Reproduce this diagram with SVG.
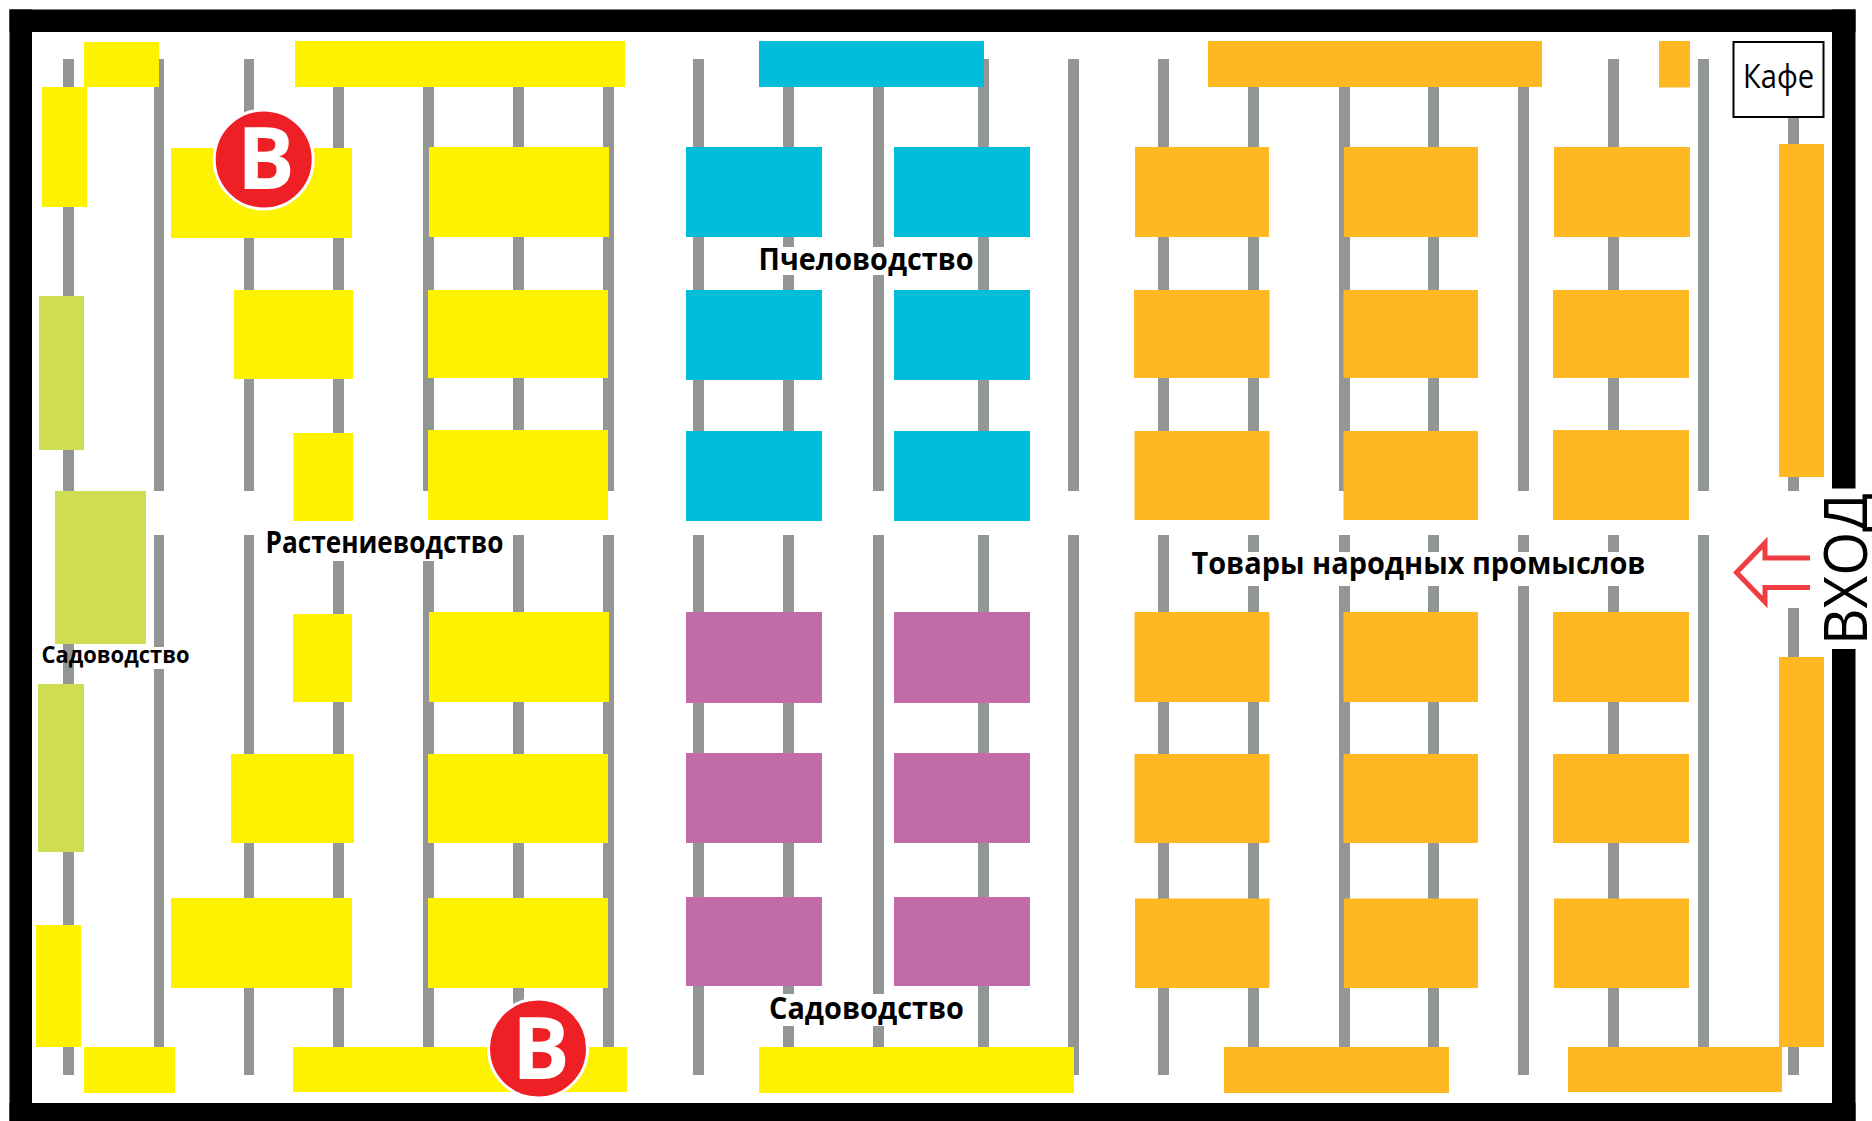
<svg xmlns="http://www.w3.org/2000/svg" width="1872" height="1121" viewBox="0 0 1872 1121">
<style>
.b{fill:#929695}
.y{fill:#fff200}
.c{fill:#00bdda}
.o{fill:#ffb722}
.p{fill:#c26ba9}
.g{fill:#cfdd53}
.l{font-family:"Open Sans","Liberation Sans",sans-serif;font-weight:700;fill:#000}
.m{font-family:"Open Sans","Liberation Sans",sans-serif;fill:#000}
.v{fill:#ee1f25;stroke:#fff;stroke-width:3}
.t{font-family:"Open Sans","Liberation Sans",sans-serif;font-weight:700;fill:#fff;font-size:86px;text-anchor:middle}
</style>
<rect width="1872" height="1121" fill="#fff"/>
<g id="walls" fill="#000">
<rect x="9.5" y="9.5" width="1846" height="22.5"/>
<rect x="9.5" y="9.5" width="22.5" height="1111.5"/>
<rect x="9.5" y="1103" width="1846" height="18"/>
<rect x="1832" y="9.5" width="23.5" height="479"/>
<rect x="1832" y="649" width="23.5" height="472"/>
</g>
<g id="connectors">
<rect class="b" x="63" y="59" width="11" height="1016"/>
<rect class="b" x="154" y="59" width="10" height="432"/>
<rect class="b" x="154" y="535" width="10" height="112"/>
<rect class="b" x="154" y="669" width="10" height="406"/>
<rect class="b" x="244" y="59" width="10" height="432"/>
<rect class="b" x="244" y="535" width="10" height="540"/>
<rect class="b" x="333" y="59" width="11" height="432"/>
<rect class="b" x="333" y="561" width="11" height="514"/>
<rect class="b" x="423" y="59" width="11" height="432"/>
<rect class="b" x="423" y="561" width="11" height="514"/>
<rect class="b" x="513" y="59" width="11" height="432"/>
<rect class="b" x="513" y="535" width="11" height="540"/>
<rect class="b" x="603" y="59" width="11" height="432"/>
<rect class="b" x="603" y="535" width="11" height="540"/>
<rect class="b" x="693" y="59" width="11" height="432"/>
<rect class="b" x="693" y="535" width="11" height="540"/>
<rect class="b" x="783" y="59" width="11" height="188"/>
<rect class="b" x="783" y="275" width="11" height="216"/>
<rect class="b" x="783" y="535" width="11" height="459"/>
<rect class="b" x="783" y="1026" width="11" height="49"/>
<rect class="b" x="873" y="59" width="11" height="188"/>
<rect class="b" x="873" y="275" width="11" height="216"/>
<rect class="b" x="873" y="535" width="11" height="459"/>
<rect class="b" x="873" y="1026" width="11" height="49"/>
<rect class="b" x="978" y="59" width="11" height="432"/>
<rect class="b" x="978" y="535" width="11" height="540"/>
<rect class="b" x="1068" y="59" width="11" height="432"/>
<rect class="b" x="1068" y="535" width="11" height="540"/>
<rect class="b" x="1158" y="59" width="11" height="432"/>
<rect class="b" x="1158" y="535" width="11" height="540"/>
<rect class="b" x="1248" y="59" width="11" height="432"/>
<rect class="b" x="1248" y="535" width="11" height="17"/>
<rect class="b" x="1248" y="586" width="11" height="489"/>
<rect class="b" x="1339" y="59" width="11" height="432"/>
<rect class="b" x="1339" y="535" width="11" height="17"/>
<rect class="b" x="1339" y="586" width="11" height="489"/>
<rect class="b" x="1428" y="59" width="11" height="432"/>
<rect class="b" x="1428" y="535" width="11" height="17"/>
<rect class="b" x="1428" y="586" width="11" height="489"/>
<rect class="b" x="1518" y="59" width="11" height="432"/>
<rect class="b" x="1518" y="535" width="11" height="17"/>
<rect class="b" x="1518" y="586" width="11" height="489"/>
<rect class="b" x="1608" y="59" width="11" height="432"/>
<rect class="b" x="1608" y="535" width="11" height="17"/>
<rect class="b" x="1608" y="586" width="11" height="489"/>
<rect class="b" x="1698" y="59" width="11" height="432"/>
<rect class="b" x="1698" y="535" width="11" height="540"/>
<rect class="b" x="1788" y="59" width="11" height="432"/>
<rect class="b" x="1788" y="608" width="11" height="467"/>
</g>
<g id="stall-y1"><rect class="y" x="84" y="42" width="75" height="45"/></g>
<g id="stall-y2"><rect class="y" x="295" y="41" width="330" height="46"/></g>
<g id="stall-y3"><rect class="y" x="42" y="87" width="45" height="120"/></g>
<g id="stall-y4"><rect class="y" x="171" y="148" width="181" height="90"/></g>
<g id="stall-y5"><rect class="y" x="429" y="147" width="180" height="90"/></g>
<g id="stall-y6"><rect class="y" x="234" y="290" width="119" height="89"/></g>
<g id="stall-y7"><rect class="y" x="428" y="290" width="180" height="88"/></g>
<g id="stall-y8"><rect class="y" x="293.500" y="433" width="59.500" height="88"/></g>
<g id="stall-y9"><rect class="y" x="428" y="430" width="180" height="90"/></g>
<g id="stall-y10"><rect class="y" x="293" y="614" width="59" height="88"/></g>
<g id="stall-y11"><rect class="y" x="429" y="612" width="180" height="90"/></g>
<g id="stall-y12"><rect class="y" x="231" y="754" width="123" height="89"/></g>
<g id="stall-y13"><rect class="y" x="428" y="754" width="180" height="89"/></g>
<g id="stall-y14"><rect class="y" x="171" y="898" width="181" height="90"/></g>
<g id="stall-y15"><rect class="y" x="428" y="898" width="180" height="90"/></g>
<g id="stall-y16"><rect class="y" x="36" y="925" width="45" height="122"/></g>
<g id="stall-y17"><rect class="y" x="84" y="1047" width="91" height="46"/></g>
<g id="stall-y18"><rect class="y" x="293" y="1047" width="334" height="45"/></g>
<g id="stall-y19"><rect class="y" x="759" y="1047" width="315" height="46"/></g>
<g id="stall-g1"><rect class="g" x="39" y="296" width="45" height="154"/></g>
<g id="stall-g2"><rect class="g" x="55" y="491" width="91" height="153"/></g>
<g id="stall-g3"><rect class="g" x="38" y="684" width="46" height="168"/></g>
<g id="stall-c1"><rect class="c" x="759" y="41" width="225" height="46"/></g>
<g id="stall-c2"><rect class="c" x="686" y="147" width="136" height="90"/></g>
<g id="stall-c3"><rect class="c" x="894" y="147" width="136" height="90"/></g>
<g id="stall-c4"><rect class="c" x="686" y="290" width="136" height="90"/></g>
<g id="stall-c5"><rect class="c" x="894" y="290" width="136" height="90"/></g>
<g id="stall-c6"><rect class="c" x="686" y="431" width="136" height="90"/></g>
<g id="stall-c7"><rect class="c" x="894" y="431" width="136" height="90"/></g>
<g id="stall-p1"><rect class="p" x="686" y="612" width="136" height="91"/></g>
<g id="stall-p2"><rect class="p" x="894" y="612" width="136" height="91"/></g>
<g id="stall-p3"><rect class="p" x="686" y="753" width="136" height="90"/></g>
<g id="stall-p4"><rect class="p" x="894" y="753" width="136" height="90"/></g>
<g id="stall-p5"><rect class="p" x="686" y="897" width="136" height="89"/></g>
<g id="stall-p6"><rect class="p" x="894" y="897" width="136" height="89"/></g>
<g id="stall-o1"><rect class="o" x="1208" y="41" width="334" height="46"/></g>
<g id="stall-o2"><rect class="o" x="1659" y="41" width="31" height="46.5"/></g>
<g id="stall-o3"><rect class="o" x="1135" y="147" width="134" height="90"/></g>
<g id="stall-o4"><rect class="o" x="1344" y="147" width="134" height="90"/></g>
<g id="stall-o5"><rect class="o" x="1554" y="147" width="136" height="90"/></g>
<g id="stall-o6"><rect class="o" x="1134" y="290" width="135.5" height="88"/></g>
<g id="stall-o7"><rect class="o" x="1343.5" y="290" width="134.5" height="88"/></g>
<g id="stall-o8"><rect class="o" x="1553" y="290" width="136" height="88"/></g>
<g id="stall-o9"><rect class="o" x="1134.5" y="431" width="135" height="89"/></g>
<g id="stall-o10"><rect class="o" x="1343.5" y="431" width="134.5" height="89"/></g>
<g id="stall-o11"><rect class="o" x="1553" y="430" width="136" height="90"/></g>
<g id="stall-o12"><rect class="o" x="1134.5" y="612" width="135" height="90"/></g>
<g id="stall-o13"><rect class="o" x="1343.5" y="612" width="134.5" height="90"/></g>
<g id="stall-o14"><rect class="o" x="1553" y="612" width="136" height="90"/></g>
<g id="stall-o15"><rect class="o" x="1134.5" y="754" width="135" height="89"/></g>
<g id="stall-o16"><rect class="o" x="1343.5" y="754" width="134.5" height="89"/></g>
<g id="stall-o17"><rect class="o" x="1553" y="754" width="136" height="89"/></g>
<g id="stall-o18"><rect class="o" x="1135" y="898.5" width="134.5" height="89.5"/></g>
<g id="stall-o19"><rect class="o" x="1344" y="898.5" width="134" height="89.5"/></g>
<g id="stall-o20"><rect class="o" x="1554" y="898.5" width="135" height="89.5"/></g>
<g id="stall-o21"><rect class="o" x="1779" y="144" width="45" height="333"/></g>
<g id="stall-o22"><rect class="o" x="1779" y="657" width="45" height="390"/></g>
<g id="stall-o23"><rect class="o" x="1224" y="1047" width="225" height="46"/></g>
<g id="stall-o24"><rect class="o" x="1568" y="1047" width="214" height="45"/></g>
<g id="cafe"><rect x="1733.5" y="42" width="90" height="75" fill="#fff" stroke="#000" stroke-width="2"/>
<text class="m" x="1743" y="88" font-size="33" textLength="71" lengthAdjust="spacingAndGlyphs">Кафе</text></g>
<g id="badge-top"><circle class="v" cx="263.700" cy="159.500" r="49.500"/><text class="t" x="266" y="189">В</text></g>
<g id="badge-bottom"><circle class="v" cx="538" cy="1048.500" r="49.500"/><text class="t" x="541" y="1079">В</text></g>
<g id="labels">
<text class="l" x="265.500" y="553" font-size="29.500" textLength="238" lengthAdjust="spacingAndGlyphs">Растениеводство</text>
<text class="l" x="41.500" y="663" font-size="23.500" textLength="148" lengthAdjust="spacingAndGlyphs">Садоводство</text>
<text class="l" x="758.500" y="270" font-size="29.500" textLength="215" lengthAdjust="spacingAndGlyphs">Пчеловодство</text>
<text class="l" x="769" y="1019" font-size="29.500" textLength="195" lengthAdjust="spacingAndGlyphs">Садоводство</text>
<text class="l" x="1191.500" y="574" font-size="29.500" textLength="454" lengthAdjust="spacingAndGlyphs">Товары народных промыслов</text>
<text class="m" transform="translate(1867 645) rotate(-90)" font-size="61" textLength="152" lengthAdjust="spacingAndGlyphs">ВХОД</text>
</g>
<g id="arrow"><path d="M1810 558H1765V543L1736.500 572.500L1765 602V587.500H1810" fill="none" stroke="#ef3e42" stroke-width="5"/></g>
</svg>
